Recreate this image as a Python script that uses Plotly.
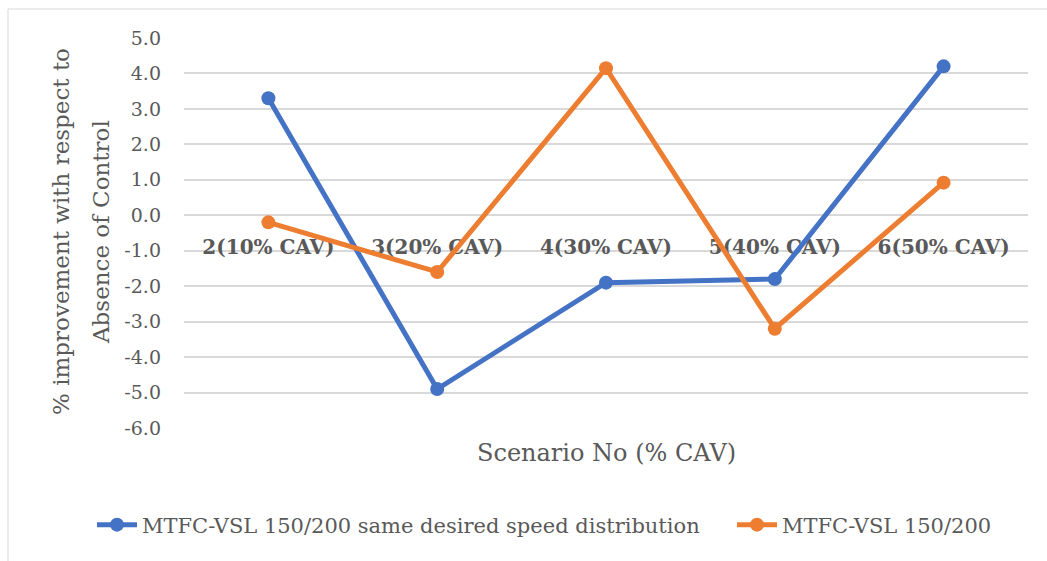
import plotly.graph_objects as go

# Scenario categories and % improvement per control strategy
scenarios = ["2(10% CAV)", "3(20% CAV)", "4(30% CAV)", "5(40% CAV)", "6(50% CAV)"]
same_speed_dist = [3.3, -4.9, -1.9, -1.8, 4.2]
vsl_150_200 = [-0.2, -1.6, 4.15, -3.2, 0.92]
y_ticks = [5, 4, 3, 2, 1, 0, -1, -2, -3, -4, -5, -6]

BLUE = "#4472C4"
ORANGE = "#ED7D31"
GRID = "#D9D9D9"
TEXT = "#595959"
FONT = "DejaVu Serif"

W, H = 1047, 561
L, R, T, B = 184, 19, 38, 133
PW, PH = W - L - R, H - T - B


def px_x(px):
    return (px - L) / PW


def px_y(py):
    return (H - B - py) / PH


def legend_at(px):
    return dict(
        orientation="h", xref="container", yref="container",
        x=px / W, y=(H - 525) / H, xanchor="left", yanchor="middle",
        font=dict(family=FONT, size=21, color=TEXT),
        itemwidth=40, bgcolor="rgba(0,0,0,0)",
    )


fig = go.Figure()
fig.add_trace(go.Scatter(
    x=scenarios, y=same_speed_dist, mode="lines+markers",
    name="MTFC-VSL 150/200 same desired speed distribution",
    line=dict(color=BLUE, width=5), marker=dict(color=BLUE, size=14),
    legend="legend",
))
fig.add_trace(go.Scatter(
    x=scenarios, y=vsl_150_200, mode="lines+markers",
    name="MTFC-VSL 150/200",
    line=dict(color=ORANGE, width=5), marker=dict(color=ORANGE, size=14),
    legend="legend2",
))

fig.update_layout(
    width=W, height=H,
    margin=dict(l=L, r=R, t=T, b=B, pad=0, autoexpand=False),
    paper_bgcolor="white", plot_bgcolor="white",
    font=dict(family=FONT, color=TEXT, size=19),
    showlegend=True,
    legend=legend_at(92),
    legend2=legend_at(732),
    xaxis=dict(
        type="category", categoryorder="array", categoryarray=scenarios,
        anchor="free", position=6 / 11,
        showgrid=False, zeroline=False,
        showline=True, linecolor=GRID, linewidth=1.5,
        ticks="", ticklabelstandoff=14,
        tickfont=dict(family=FONT, size=20, color=TEXT, weight="bold"),
        layer="below traces",
        range=[-0.5, len(scenarios) - 0.5],
    ),
    yaxis=dict(
        range=[-6, 5], tickvals=y_ticks,
        ticktext=[f"{v:.1f}" for v in y_ticks],
        showgrid=True, gridcolor=GRID, gridwidth=1.5,
        zeroline=False, showline=False, ticks="",
        ticklabelstandoff=22,
        tickfont=dict(family=FONT, size=19, color=TEXT),
    ),
    shapes=[dict(
        type="rect", xref="paper", yref="paper",
        x0=px_x(8), x1=px_x(1100), y0=px_y(620), y1=px_y(9),
        line=dict(color=GRID, width=1), fillcolor="rgba(0,0,0,0)",
        layer="below",
    )],
    annotations=[
        dict(text="Scenario No (% CAV)", xref="paper", yref="paper",
             x=px_x(606), y=px_y(453), xanchor="center", yanchor="middle",
             showarrow=False, font=dict(family=FONT, size=24, color=TEXT)),
        dict(text="% improvement with respect to", xref="paper", yref="paper",
             x=px_x(61), y=px_y(232), xanchor="center", yanchor="middle",
             textangle=-90, showarrow=False,
             font=dict(family=FONT, size=23, color=TEXT)),
        dict(text="Absence of Control", xref="paper", yref="paper",
             x=px_x(101), y=px_y(232), xanchor="center", yanchor="middle",
             textangle=-90, showarrow=False,
             font=dict(family=FONT, size=23, color=TEXT)),
    ],
)

fig.write_html("out.html")
